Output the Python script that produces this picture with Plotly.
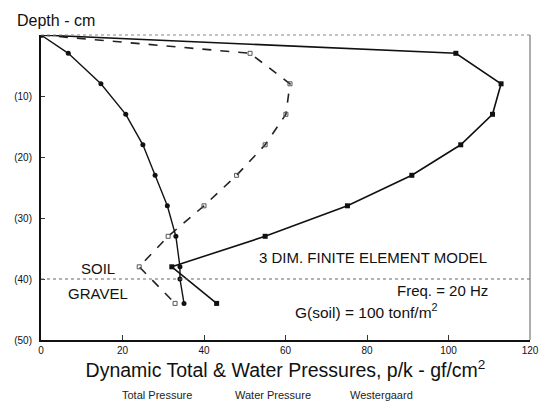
import plotly.graph_objects as go

# Depth below surface (cm) at each output node
depth_total = [0, 3, 8, 13, 18, 23, 28, 33, 38, 40, 44]
total_pressure = [0, 6.7, 14.7, 20.8, 25.0, 28.0, 31.0, 33.1, 34.1, 34.1, 35.1]

depth_water = [0, 3, 8, 13, 18, 23, 28, 33, 38, 44]
water_pressure = [0, 51.3, 61.1, 60.1, 55.0, 48.0, 40.0, 31.2, 24.1, 32.9]

depth_fem = [0, 3, 8, 13, 18, 23, 28, 33, 38, 44]
fem_pressure = [0, 101.8, 112.9, 110.8, 103.0, 91.0, 75.2, 55.0, 32.1, 43.1]

x_ticks = [0, 20, 40, 60, 80, 100, 120]
y_ticks = [0, 10, 20, 30, 40, 50]
y_tick_text = ["", "(10)", "(20)", "(30)", "(40)", "(50)"]

# legend captions, left edge given in pressure units along the x axis
legend_labels = ["Total Pressure", "Water Pressure", "Westergaard"]
legend_left = [19.4, 47.1, 75.3]

soil_boundary = 40

FONT = "Liberation Sans, Arial, Helvetica, sans-serif"

fig = go.Figure()

fig.add_trace(go.Scatter(
    x=water_pressure, y=depth_water, mode="lines+markers",
    line=dict(color="#222", width=1.6, dash="dash"),
    marker=dict(symbol="square-open", size=4, color="#555", line=dict(width=1)),
    name="Water Pressure", showlegend=False,
))
fig.add_trace(go.Scatter(
    x=total_pressure, y=depth_total, mode="lines+markers",
    line=dict(color="#111", width=1.4),
    marker=dict(symbol="circle", size=5, color="#111"),
    name="Total Pressure", showlegend=False,
))
fig.add_trace(go.Scatter(
    x=fem_pressure, y=depth_fem, mode="lines+markers",
    line=dict(color="#111", width=1.6),
    marker=dict(symbol="square", size=5, color="#111"),
    name="3 DIM. FINITE ELEMENT MODEL", showlegend=False,
))

# soil / gravel interface
fig.add_shape(type="line", xref="paper", x0=0, x1=1, yref="y",
              y0=soil_boundary, y1=soil_boundary,
              line=dict(color="#666", width=1.2, dash="dot"))
# top and right frame
fig.add_shape(type="line", xref="paper", yref="paper", x0=0, x1=1, y0=1, y1=1,
              line=dict(color="#888", width=1.2, dash="dot"))
fig.add_shape(type="line", xref="paper", yref="paper", x0=1, x1=1, y0=0, y1=1,
              line=dict(color="#777", width=1.2))

text_font = dict(family=FONT, size=15, color="#111")
fig.add_annotation(x=14.0, y=38.2, text="SOIL", showarrow=False, font=text_font)
fig.add_annotation(x=13.9, y=42.3, text="GRAVEL", showarrow=False, font=text_font)
fig.add_annotation(x=81.5, y=36.4, text="3 DIM. FINITE ELEMENT MODEL",
                   showarrow=False, font=text_font)
fig.add_annotation(x=110.2, y=41.95, text="Freq. = 20 Hz", xanchor="right",
                   showarrow=False, font=text_font)
fig.add_annotation(x=79.8, y=45.3, text="G(soil) = 100 tonf/m<sup>2</sup>",
                   showarrow=False, font=dict(family=FONT, size=15.5, color="#111"))

fig.add_annotation(xref="paper", yref="paper", x=-0.054, y=1.013,
                   xanchor="left", yanchor="bottom", text="Depth - cm",
                   showarrow=False, font=dict(family=FONT, size=16, color="#111"))

for lab, lx in zip(legend_labels, legend_left):
    fig.add_annotation(xref="x", yref="paper", x=lx, y=-0.205,
                       xanchor="left", text=lab, showarrow=False,
                       font=dict(family=FONT, size=11, color="#222"))

fig.update_layout(
    width=553, height=415,
    margin=dict(l=41, r=23, t=35, b=75),
    paper_bgcolor="white", plot_bgcolor="white",
    font=dict(family=FONT, color="#111"),
    xaxis=dict(
        range=[0, 120], tickvals=x_ticks, ticks="inside", ticklen=5,
        tickcolor="#333", showgrid=False, zeroline=False,
        showline=True, linecolor="#111", linewidth=1.5,
        tickfont=dict(size=10, family=FONT),
        title=dict(text="Dynamic Total & Water Pressures, p/k - gf/cm<sup>2</sup>",
                   font=dict(size=19.5, family=FONT), standoff=9),
    ),
    yaxis=dict(
        range=[50, 0], tickvals=y_ticks, ticktext=y_tick_text,
        ticks="inside", ticklen=4, tickcolor="#333",
        showgrid=False, zeroline=False,
        showline=True, linecolor="#111", linewidth=2,
        tickfont=dict(size=10, family=FONT), ticklabelstandoff=5,
    ),
)

fig.write_html("out.html")
